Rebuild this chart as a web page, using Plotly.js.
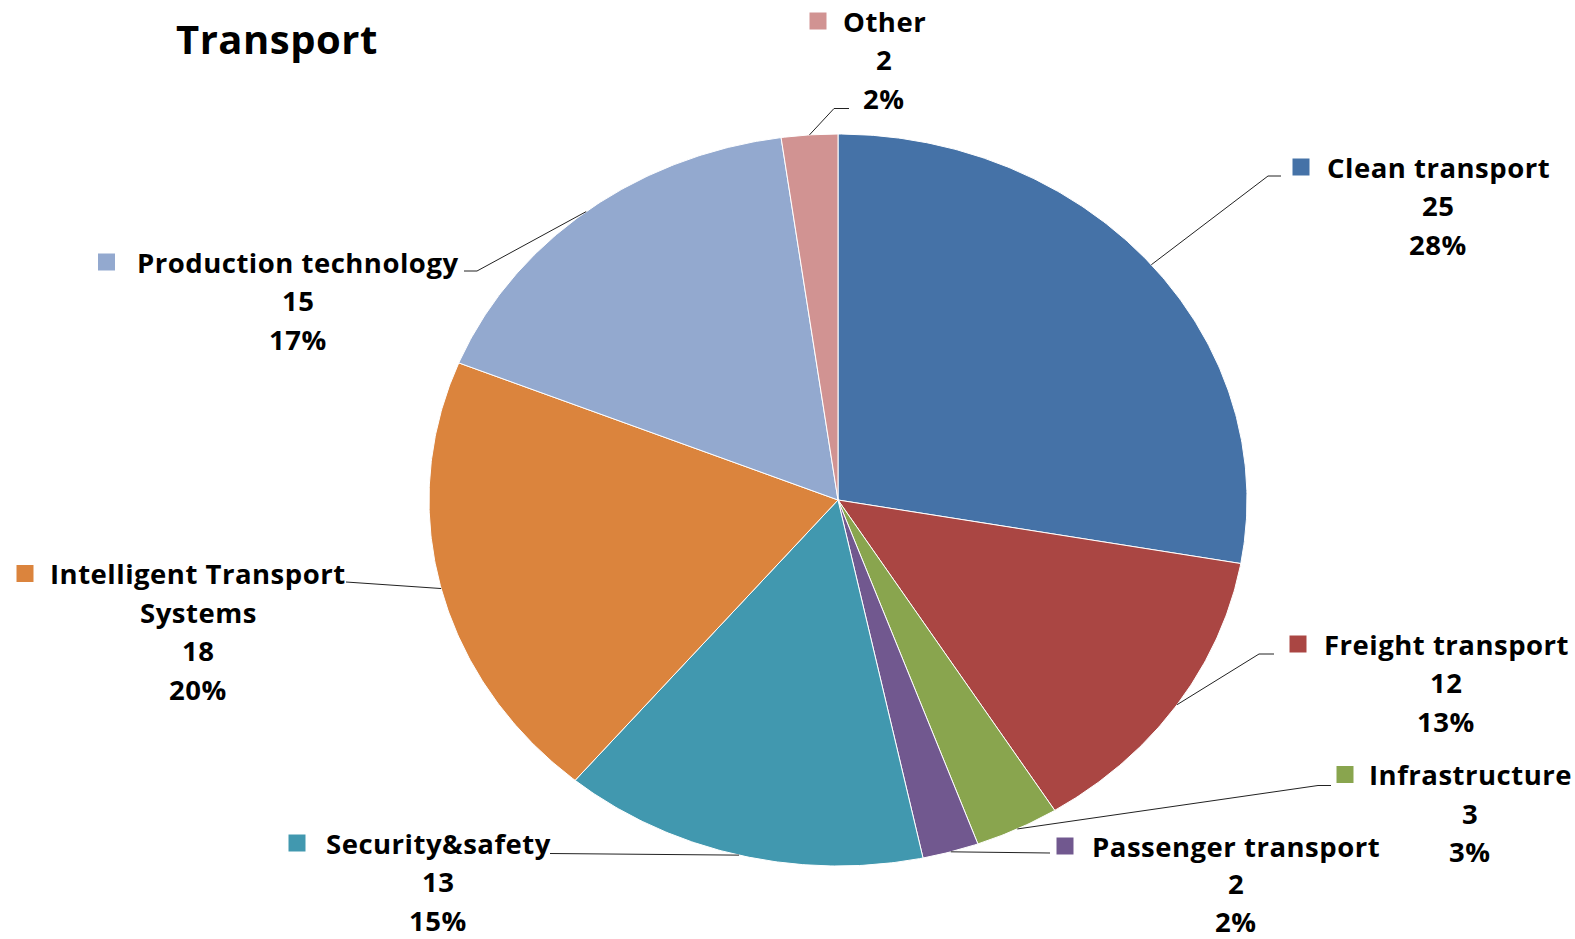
<!DOCTYPE html>
<html>
<head>
<meta charset="utf-8">
<script src="https://cdn.plot.ly/plotly-3.0.1.min.js"></script>
<style>
html,body{margin:0;padding:0;background:#fff;}
#chart{width:1575px;height:939px;}
.annotation-text{letter-spacing:0.5px;}
</style>
</head>
<body>
<div id="chart"></div>
<script>
// ---- data ----
const categories = ['Clean transport', 'Freight transport', 'Infrastructure', 'Passenger transport',
                    'Security&safety', 'Intelligent Transport Systems', 'Production technology', 'Other'];
const values = [25, 12, 3, 2, 13, 18, 15, 2];
const percentLabels = ['28%', '13%', '3%', '2%', '15%', '20%', '17%', '2%'];
const titleText = 'Transport';

// ---- styles ----
const colors = ['#4572A7', '#AA4643', '#89A54E', '#71588F', '#4198AF', '#DB843D', '#93A9CF', '#D19392'];
const W = 1575, H = 939;
const CX = 838, CY = 500, RX = 409, RY = 366;
const FONT = 'Open Sans, Noto Sans, sans-serif';
const FS = 27.5;

// label block placement (text center x, first line y, line step, square x) and leader elbows
const labelPos = [
  {cx: 1438, y: 167, step: 38.5, sq: 1301, path: [[1268, 176], [1281, 176]]},
  {cx: 1446, y: 644, step: 38.5, sq: 1298, path: [[1259, 654], [1274, 654]]},
  {cx: 1470, y: 774.5, step: 38.5, sq: 1345, path: [[1318, 785.5], [1331, 785.5]]},
  {cx: 1236, y: 846, step: 37.5, sq: 1065, path: [[1050, 853]]},
  {cx: 438, y: 843, step: 38.5, sq: 297, path: [[550, 853.5]]},
  {cx: 198, y: 573.5, step: 38.5, sq: 25, path: [[346, 582]]},
  {cx: 298, y: 262, step: 38.5, sq: 106.5, path: [[477, 271], [464, 271]]},
  {cx: 884, y: 21, step: 38.5, sq: 818, path: [[834, 108.5], [849, 108.5]]}
];

const total = values.reduce((a, b) => a + b, 0);
const traces = [];
const annotations = [];
let cum = 0;
values.forEach((v, i) => {
  const a0 = cum / total * 2 * Math.PI;
  const a1 = (cum + v) / total * 2 * Math.PI;
  cum += v;
  const xs = [CX], ys = [CY];
  const n = Math.max(4, Math.ceil((a1 - a0) / (Math.PI / 360)));
  for (let k = 0; k <= n; k++) {
    const a = a0 + (a1 - a0) * k / n;
    xs.push(CX + RX * Math.sin(a));
    ys.push(CY - RY * Math.cos(a));
  }
  xs.push(CX); ys.push(CY);
  traces.push({
    type: 'scatter', mode: 'lines', x: xs, y: ys, fill: 'toself',
    fillcolor: colors[i], line: {color: '#ffffff', width: 1},
    hoverinfo: 'text', text: categories[i] + ': ' + v, showlegend: false
  });
  // leader line
  const am = (a0 + a1) / 2;
  const lp = labelPos[i];
  const lx = [CX + RX * Math.sin(am)], ly = [CY - RY * Math.cos(am)];
  lp.path.forEach(p => { lx.push(p[0]); ly.push(p[1]); });
  traces.push({
    type: 'scatter', mode: 'lines', x: lx, y: ly,
    line: {color: '#222', width: 1}, hoverinfo: 'skip', showlegend: false
  });
  // legend-key square
  traces.push({
    type: 'scatter', mode: 'markers', x: [lp.sq], y: [lp.y],
    marker: {symbol: 'square', size: 17, color: colors[i]},
    hoverinfo: 'skip', showlegend: false
  });
  // label text lines
  let nameLines = [categories[i]];
  if (categories[i] === 'Intelligent Transport Systems') nameLines = ['Intelligent Transport', 'Systems'];
  const lines = nameLines.concat([String(v), percentLabels[i]]);
  lines.forEach((t, j) => {
    annotations.push({
      x: lp.cx, y: lp.y + j * lp.step, xref: 'x', yref: 'y',
      text: '<b>' + t + '</b>', showarrow: false,
      xanchor: 'center', yanchor: 'middle',
      font: {family: FONT, size: FS, color: '#000'}
    });
  });
});

annotations.push({
  x: 277, y: 38, xref: 'x', yref: 'y', text: '<b>' + titleText + '</b>',
  showarrow: false, xanchor: 'center', yanchor: 'middle',
  font: {family: FONT, size: 40, color: '#000'}
});

const layout = {
  width: W, height: H,
  margin: {l: 0, r: 0, t: 0, b: 0},
  paper_bgcolor: '#ffffff', plot_bgcolor: '#ffffff',
  xaxis: {range: [0, W], visible: false, fixedrange: true},
  yaxis: {range: [H, 0], visible: false, fixedrange: true},
  showlegend: false,
  annotations: annotations
};

Plotly.newPlot('chart', traces, layout, {displayModeBar: false, staticPlot: true});
</script>
</body>
</html>
